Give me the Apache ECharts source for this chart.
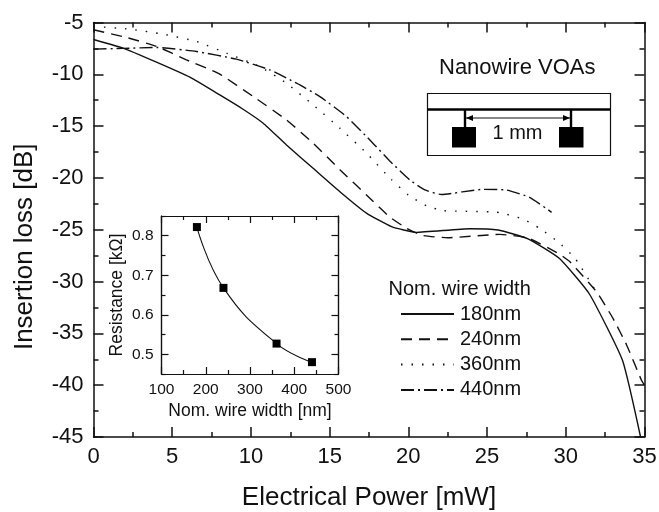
<!DOCTYPE html>
<html><head><meta charset="utf-8">
<script src="https://cdn.jsdelivr.net/npm/echarts@6/dist/echarts.min.js"></script>
<style>html,body{margin:0;padding:0;background:#fff}#c{width:659px;height:512px}</style></head>
<body><div id="c"></div>
<script>
const seriesNames = ['180nm','240nm','360nm','440nm'];
const power180 = [0,1.88,4,6.12,8.02,9.5,10.78,12.26,13.95,15.65,17.34,18.93,20.5,23.9,25.7,27.6,29.6,31.5,33.6,34.75];
const loss180  = [-6.64,-7.47,-8.83,-10.28,-11.99,-13.37,-14.72,-16.82,-19.07,-21.33,-23.4,-24.7,-25.25,-24.9,-25.03,-25.87,-27.77,-31.2,-37.6,-45];
const power240 = [0,2.1,4,5.9,8,10.15,12.26,13.95,15.65,17.34,18.8,19.9,20.9,22.5,25.8,27.6,29.6,30.26,31.96,33,33.87,34.8,35];
const loss240  = [-5.7,-6.45,-7.3,-8.6,-9.96,-12.15,-14.4,-16.65,-19.2,-21.65,-23.75,-24.87,-25.55,-25.77,-25.45,-25.8,-27.35,-28.09,-31,-33.56,-36.14,-39.5,-40];
const power360 = [0,2.3,4.42,6.54,8.45,10.56,12.26,13.95,15.65,17.34,18.9,20,21.15,22.2,25.6,27.3,28.35,29.5,30.6,31.9];
const loss360  = [-5.38,-5.64,-6.12,-6.83,-7.96,-9.25,-10.86,-12.95,-15.2,-17.6,-20.13,-21.65,-22.68,-23.16,-23.3,-23.97,-24.87,-26.16,-27.77,-30.9];
const power440 = [0,1.88,4,6.54,9.08,11.2,12.9,14.38,16.07,17.66,18.8,20.1,21.05,22.1,24.75,26.2,27.7,29.1];
const loss440  = [-7.57,-7.5,-7.41,-7.8,-8.54,-9.57,-10.86,-12.15,-14.08,-16.5,-18.33,-20.2,-21.16,-21.6,-21.1,-21.16,-21.87,-23.32];
const widths = [180,240,360,440];
const resistance = [0.822,0.668,0.527,0.48];
const insetYMajor = [0.5,0.6,0.7,0.8];
const insetYMinor = [0.45,0.55,0.65,0.75,0.85];

const zip = (a,b) => a.map((v,i)=>[v,b[i]]);
const F = 'Liberation Sans, Arial, sans-serif';
const K = '#111';
const line = {lineStyle:{color:K,width:1.5}};

function mainX(pos,labels){return {type:'value',gridIndex:0,position:pos,min:0,max:35,interval:5,
  axisLine:{show:true,onZero:false,...line},
  axisTick:{show:true,inside:true,length:10,lineStyle:{color:K,width:1.5}},
  minorTick:{show:true,splitNumber:2,length:5,lineStyle:{color:K,width:1.5}},
  splitLine:{show:false},
  axisLabel:{show:labels,fontFamily:F,fontSize:22,color:K,margin:9},
  ...(labels?{name:'Electrical Power [mW]',nameLocation:'middle',nameGap:48,nameTextStyle:{fontFamily:F,fontSize:26,color:K}}:{})};}
function mainY(pos,labels){return {type:'value',gridIndex:0,position:pos,min:-45,max:-5,interval:5,
  axisLine:{show:true,onZero:false,...line},
  axisTick:{show:true,inside:true,length:10,lineStyle:{color:K,width:1.5}},
  minorTick:{show:true,splitNumber:2,length:5,lineStyle:{color:K,width:1.5}},
  splitLine:{show:false},
  axisLabel:{show:labels,fontFamily:F,fontSize:22,color:K,margin:10},
  ...(labels?{name:'Insertion loss [dB]',nameLocation:'middle',nameGap:56,nameTextStyle:{fontFamily:F,fontSize:26,color:K,padding:[0,34,0,0]}}:{})};}
function insetX(pos,labels){return {type:'value',gridIndex:1,position:pos,min:100,max:500,interval:100,
  axisLine:{show:true,onZero:false,lineStyle:{color:K,width:1.2}},
  axisTick:{show:true,inside:true,length:7,lineStyle:{color:K,width:1.2}},
  minorTick:{show:true,splitNumber:2,length:4,lineStyle:{color:K,width:1.2}},
  splitLine:{show:false},
  axisLabel:{show:labels,fontFamily:F,fontSize:15.5,color:K,margin:8},
  ...(labels?{name:'Nom. wire width [nm]',nameLocation:'middle',nameGap:28,nameTextStyle:{fontFamily:F,fontSize:17.5,color:K}}:{})};}
function insetY(pos,vals,len,labels){return {type:'value',gridIndex:1,position:pos,min:0.45,max:0.85,
  axisLine:{show:true,onZero:false,lineStyle:{color:K,width:1.2}},
  axisTick:{show:true,inside:true,length:len,customValues:vals,lineStyle:{color:K,width:1.2}},
  splitLine:{show:false},
  axisLabel:{show:labels,customValues:insetYMajor,formatter:v=>v.toFixed(1),fontFamily:F,fontSize:15.5,color:K,margin:8},
  ...(labels?{name:'Resistance [kΩ]',nameLocation:'middle',nameGap:35,nameTextStyle:{fontFamily:F,fontSize:17.5,color:K}}:{})};}

const dashes = ['solid',[11,7],[1.5,9],[13,4,2,4]];
const powers = [power180,power240,power360,power440];
const losses = [loss180,loss240,loss360,loss440];
const mainSeries = seriesNames.map((n,i)=>({name:n,type:'line',xAxisIndex:0,yAxisIndex:0,
  data:zip(powers[i],losses[i]),showSymbol:false,symbol:'none',smooth:0.15,
  lineStyle:{color:K,width:1.4,type:dashes[i]},itemStyle:{color:K},silent:true}));

const txt = (x,y,text,size)=>({type:'text',style:{x,y,text,font:size+'px '+F,fill:K,verticalAlign:'middle'}});
const option = {
  animation:false,backgroundColor:'#fff',
  textStyle:{fontFamily:F},
  grid:[{left:93.5,right:14.5,top:22.5,bottom:75,outerBoundsMode:'none',containLabel:false},
        {left:161.5,top:216,width:177,height:158,outerBoundsMode:'none',containLabel:false}],
  xAxis:[mainX('bottom',true),mainX('top',false),insetX('bottom',true),insetX('top',false)],
  yAxis:[mainY('left',true),mainY('right',false),
    insetY('left',insetYMajor,7,true),insetY('right',insetYMajor,7,false),
    insetY('left',insetYMinor,4,false),insetY('right',insetYMinor,4,false)],
  legend:{data:seriesNames,orient:'vertical',left:400,top:304,padding:0,itemWidth:53,itemHeight:14,itemGap:5.3,
    itemStyle:{opacity:0,color:'transparent',borderWidth:0},
    textStyle:{fontFamily:F,fontSize:20,color:K,padding:[0,0,0,1]},selectedMode:false},
  series:[...mainSeries,
    {name:'fit',type:'line',xAxisIndex:2,yAxisIndex:2,data:zip(widths,resistance),smooth:0.45,
     symbol:'rect',symbolSize:8,showSymbol:true,lineStyle:{color:K,width:1.1},itemStyle:{color:'#000'},silent:true}],
  graphic:[
    txt(439,68,'Nanowire VOAs',22),
    txt(492.5,133,'1 mm',20),
    txt(388.5,289,'Nom. wire width',20),
    {type:'rect',shape:{x:427.5,y:93.5,width:183,height:62},style:{fill:'none',stroke:K,lineWidth:1.2}},
    {type:'line',shape:{x1:427.5,y1:109.5,x2:610.5,y2:109.5},style:{stroke:'#000',lineWidth:2.6}},
    {type:'line',shape:{x1:465,y1:109,x2:465,y2:128},style:{stroke:'#000',lineWidth:2.4}},
    {type:'line',shape:{x1:571,y1:109,x2:571,y2:128},style:{stroke:'#000',lineWidth:2.4}},
    {type:'rect',shape:{x:452,y:127,width:24,height:20.5},style:{fill:'#000'}},
    {type:'rect',shape:{x:559,y:127,width:24.5,height:20.5},style:{fill:'#000'}},
    {type:'line',shape:{x1:466,y1:118,x2:570,y2:118},style:{stroke:K,lineWidth:1}},
    {type:'polygon',shape:{points:[[466,118],[473,115],[473,121]]},style:{fill:'#000'}},
    {type:'polygon',shape:{points:[[570,118],[563,115],[563,121]]},style:{fill:'#000'}}
  ]
};
echarts.init(document.getElementById('c'),null,{renderer:'canvas'}).setOption(option);
</script></body></html>
